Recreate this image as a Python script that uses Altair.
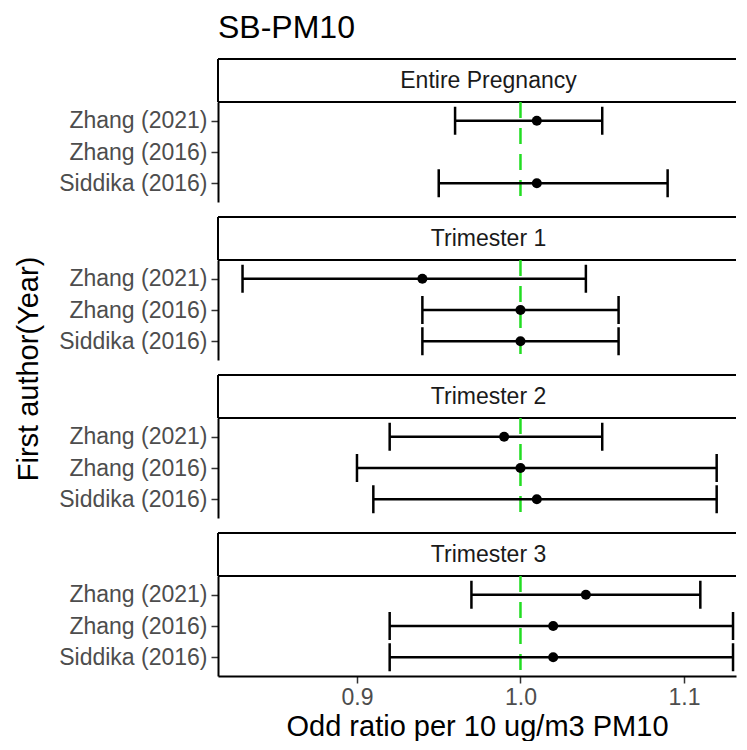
import altair as alt
import pandas as pd

# ---------------- data ----------------
title_text = "SB-PM10"
x_title = "Odd ratio per 10 ug/m3 PM10"
y_title = "First author(Year)"
panels = ["Entire Pregnancy", "Trimester 1", "Trimester 2", "Trimester 3"]
authors = ["Zhang (2021)", "Zhang (2016)", "Siddika (2016)"]

row_panel = ["Entire Pregnancy", "Entire Pregnancy",
             "Trimester 1", "Trimester 1", "Trimester 1",
             "Trimester 2", "Trimester 2", "Trimester 2",
             "Trimester 3", "Trimester 3", "Trimester 3"]
row_author = ["Zhang (2021)", "Siddika (2016)",
              "Zhang (2021)", "Zhang (2016)", "Siddika (2016)",
              "Zhang (2021)", "Zhang (2016)", "Siddika (2016)",
              "Zhang (2021)", "Zhang (2016)", "Siddika (2016)"]
odds = [1.01, 1.01, 0.94, 1.00, 1.00, 0.99, 1.00, 1.01, 1.04, 1.02, 1.02]
lower = [0.96, 0.95, 0.83, 0.94, 0.94, 0.92, 0.90, 0.91, 0.97, 0.92, 0.92]
upper = [1.05, 1.09, 1.04, 1.06, 1.06, 1.05, 1.12, 1.12, 1.11, 1.13, 1.13]
x_ticks = [0.9, 1.0, 1.1]
x_min = 0.815
ref_value = 1.0

df = pd.DataFrame({"panel": row_panel, "author": row_author,
                   "odds": odds, "lower": lower, "upper": upper})

# ---------------- layout ----------------
PX_PER_UNIT = 1635
W = 518
PANEL_H = 100
GAP = 15
STRIP_H = 43
FONT = "Liberation Sans"
LINE = 2.5

xscale = alt.Scale(domain=[x_min, x_min + W / PX_PER_UNIT], nice=False, zero=False)
yscale = alt.Scale(domain=authors, type="point", padding=0.6)

y_axis = alt.Axis(title=None, domainColor="black", domainWidth=2,
                  tickColor="#333333", tickWidth=1.5, tickSize=7,
                  labelFontSize=23, labelColor="#4d4d4d", labelPadding=4,
                  labelFont=FONT, grid=False)
x_axis_bottom = alt.Axis(values=x_ticks, format=".1f", title=x_title,
                         domainColor="black", domainWidth=2,
                         tickColor="#333333", tickWidth=1.5, tickSize=7,
                         labelFontSize=23, labelColor="#4d4d4d", labelPadding=3,
                         labelFont=FONT, titleFont=FONT, titleFontSize=29,
                         titleColor="black", titleFontWeight="normal",
                         titlePadding=3, grid=False)


def strip(name, first=False):
    d = pd.DataFrame({"panel": [name]})
    base = alt.Chart(d)
    rule = dict(color="black", strokeWidth=2)
    top = base.mark_rule(**rule).encode(x=alt.value(0), x2=alt.value(W), y=alt.value(GAP))
    bottom = base.mark_rule(**rule).encode(x=alt.value(0), x2=alt.value(W), y=alt.value(GAP + STRIP_H))
    left = base.mark_rule(**rule).encode(x=alt.value(0), y=alt.value(GAP), y2=alt.value(GAP + STRIP_H))
    label = base.mark_text(fontSize=23, font=FONT, color="#1a1a1a",
                           baseline="middle", align="center").encode(
        x=alt.value(270.5), y=alt.value(GAP + STRIP_H / 2), text="panel:N")
    layers = [top, bottom, left, label]
    if first:
        layers.append(base.mark_text(fontSize=32, font=FONT, color="black",
                                     align="left", baseline="top").encode(
            x=alt.value(0), y=alt.value(-31), text=alt.value(title_text)))
    return alt.layer(*layers).properties(width=W, height=GAP + STRIP_H)


def panel(name, last=False, with_ytitle=False):
    d = df[df["panel"] == name]
    base = alt.Chart(d)
    xaxis = x_axis_bottom if last else None

    def X(field):
        return alt.X(field, type="quantitative", scale=xscale, axis=xaxis)

    Y = alt.Y("author:N", scale=yscale, sort=authors, axis=y_axis)

    ref = alt.Chart(pd.DataFrame({"v": [ref_value]})).mark_rule(
        color="#22dd22", strokeDash=[16, 10], strokeWidth=2.5).encode(
        x=X("v"))
    bars = base.mark_rule(color="black", strokeWidth=LINE).encode(
        x=X("lower"), x2="upper:Q", y=Y)
    cap_lo = base.mark_tick(color="black", size=28, thickness=LINE, opacity=1).encode(
        x=X("lower"), y=Y)
    cap_hi = base.mark_tick(color="black", size=28, thickness=LINE, opacity=1).encode(
        x=X("upper"), y=Y)
    pts = base.mark_circle(color="black", size=100, opacity=1).encode(
        x=X("odds"), y=Y)
    layers = [ref, bars, cap_lo, cap_hi, pts]
    if with_ytitle:
        layers.append(alt.Chart(pd.DataFrame({"t": [y_title]})).mark_text(
            angle=270, fontSize=29, font=FONT, color="black",
            baseline="middle", align="center").encode(
            x=alt.value(-189), y=alt.value(109), text="t:N"))
    return alt.layer(*layers).properties(width=W, height=PANEL_H)


charts = []
for i, p in enumerate(panels):
    charts.append(strip(p, first=(i == 0)))
    charts.append(panel(p, last=(i == len(panels) - 1), with_ytitle=(i == 1)))

chart = alt.vconcat(*charts, spacing=0, bounds="flush").properties(
    padding={"left": 7, "top": 4, "right": 0, "bottom": 0}
).configure(font=FONT).configure_view(strokeWidth=0)

chart.save("out.html", embed_options={"renderer": "svg", "actions": False})
